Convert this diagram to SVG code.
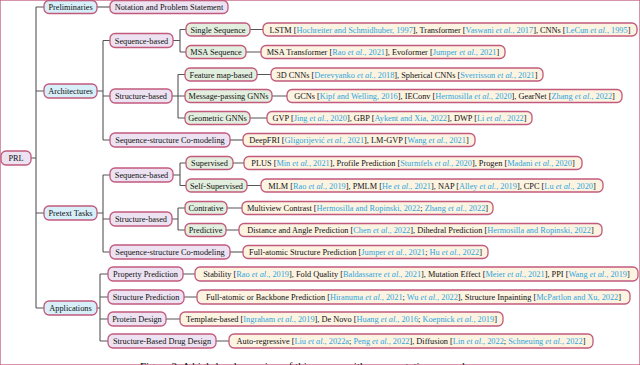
<svg xmlns="http://www.w3.org/2000/svg" width="640" height="365" viewBox="0 0 640 365">
<style>
text{font-family:"Liberation Serif","Times New Roman",serif;font-size:8.3px;fill:#111;}
.t{text-anchor:middle;}
rect{stroke:#c25a7c;stroke-width:1.3;}
.l1 rect{fill:#d6eff9;}
.l2 rect{fill:#ece2f1;}
.l3 rect{fill:#e2efdf;}
.l4 rect{fill:#fcf3e1;}
.c{fill:#2fa6dd;}
.i{font-style:italic;}
#connectors path{fill:none;stroke:#555;stroke-width:1.1;}
.cap{font-size:11px;}
</style>
<rect x="0" y="0" width="640" height="365" fill="#fff" stroke="none"/>
<g id="connectors">
<path d="M31,158 H36 M36,7 V308 M36,7 H44 M36,91 H44 M36,213 H44 M36,308 H44"/>
<path d="M97,7 H110"/>
<path d="M97,91 H103 M103,40.5 V140 M103,40.5 H110 M103,96 H110 M103,140 H110"/>
<path d="M173,40.5 H180 M180,29.5 V52 M180,29.5 H186 M180,52 H186"/>
<path d="M250,29.5 H263 M246,52 H261"/>
<path d="M172,96 H178 M178,74.5 V118 M178,74.5 H185 M178,96 H185 M178,118 H185"/>
<path d="M257,74.5 H271 M272,96 H287 M250,118 H267"/>
<path d="M230,140 H243"/>
<path d="M97,213 H103 M103,175 V252 M103,175 H110 M103,219 H110 M103,252 H110"/>
<path d="M173,175 H180 M180,163 V185.5 M180,163 H186 M180,185.5 H186"/>
<path d="M233,163 H244 M247,185.5 H261"/>
<path d="M172,219 H178 M178,208 V230 M178,208 H185 M178,230 H185"/>
<path d="M227,208 H242 M226,230 H239"/>
<path d="M230,252 H243"/>
<path d="M97,308 H100 M100,274 V341 M100,274 H108 M100,297 H108 M100,319 H108 M100,341 H108"/>
<path d="M183,274 H195 M184,297 H197 M166,319 H180 M216,341 H229"/>
</g>

<g id="prl" class="l2"><rect x="1" y="151" width="30" height="14" rx="5"/><text class="t" x="16" y="161">PRL</text></g>

<g id="preliminaries" class="l1"><rect x="44" y="0.5" width="53" height="13" rx="5"/><text class="t" x="70.5" y="10">Preliminaries</text></g>
<g id="architectures" class="l1"><rect x="44" y="84" width="53" height="14" rx="5"/><text class="t" x="70.5" y="94">Architectures</text></g>
<g id="pretext" class="l1"><rect x="44" y="206" width="53" height="14" rx="5"/><text class="t" x="70.5" y="216">Pretext Tasks</text></g>
<g id="applications" class="l1"><rect x="44" y="301" width="53" height="14" rx="5"/><text class="t" x="70.5" y="311">Applications</text></g>

<g id="notation" class="l2"><rect x="110" y="0.5" width="118" height="13" rx="5"/><text class="t" x="169" y="10">Notation and Problem Statement</text></g>
<g id="arch-seq" class="l2"><rect x="110" y="33.5" width="63" height="14" rx="5"/><text class="t" x="141.5" y="43.5">Sequence-based</text></g>
<g id="arch-struct" class="l2"><rect x="110" y="89" width="62" height="14" rx="5"/><text class="t" x="141" y="99">Structure-based</text></g>
<g id="arch-co" class="l2"><rect x="110" y="133" width="120" height="14" rx="5"/><text class="t" x="170" y="143">Sequence-structure Co-modeling</text></g>
<g id="pre-seq" class="l2"><rect x="110" y="168" width="63" height="14" rx="5"/><text class="t" x="141.5" y="178">Sequence-based</text></g>
<g id="pre-struct" class="l2"><rect x="110" y="212" width="62" height="14" rx="5"/><text class="t" x="141" y="222">Structure-based</text></g>
<g id="pre-co" class="l2"><rect x="110" y="245" width="120" height="14" rx="5"/><text class="t" x="170" y="255">Sequence-structure Co-modeling</text></g>
<g id="app-prop" class="l2"><rect x="108" y="267" width="75" height="14" rx="5"/><text class="t" x="145.5" y="277">Property Prediction</text></g>
<g id="app-struct" class="l2"><rect x="108" y="290" width="76" height="14" rx="5"/><text class="t" x="146" y="300">Structure Prediction</text></g>
<g id="app-design" class="l2"><rect x="108" y="312" width="58" height="14" rx="5"/><text class="t" x="137" y="322">Protein Design</text></g>
<g id="app-drug" class="l2"><rect x="108" y="334" width="108" height="14" rx="5"/><text class="t" x="162" y="344">Structure-Based Drug Design</text></g>

<g id="single" class="l3"><rect x="186" y="23" width="64" height="13" rx="5"/><text class="t" x="218" y="32.5">Single Sequence</text></g>
<g id="msa" class="l3"><rect x="186" y="45.5" width="60" height="13" rx="5"/><text class="t" x="216" y="55">MSA Sequence</text></g>
<g id="featmap" class="l3"><rect x="185" y="68" width="72" height="13" rx="5"/><text class="t" x="221" y="77.5">Feature map-based</text></g>
<g id="mpgnn" class="l3"><rect x="185" y="89.5" width="87" height="13" rx="5"/><text class="t" x="228.5" y="99">Message-passing GNNs</text></g>
<g id="geognn" class="l3"><rect x="185" y="111.5" width="65" height="13" rx="5"/><text class="t" x="217.5" y="121">Geometric GNNs</text></g>
<g id="supervised" class="l3"><rect x="186" y="156.5" width="47" height="13" rx="5"/><text class="t" x="209.5" y="166">Supervised</text></g>
<g id="selfsup" class="l3"><rect x="186" y="179" width="61" height="13" rx="5"/><text class="t" x="216.5" y="188.5">Self-Supervised</text></g>
<g id="contrative" class="l3"><rect x="185" y="201.5" width="42" height="13" rx="5"/><text class="t" x="206" y="211">Contrative</text></g>
<g id="predictive" class="l3"><rect x="185" y="223.5" width="41" height="13" rx="5"/><text class="t" x="205.5" y="233">Predictive</text></g>

<g id="c-lstm" class="l4"><rect x="263" y="23" width="374" height="13" rx="5"/><text class="t" x="450" y="32.5">LSTM [<tspan class="c">Hochreiter and Schmidhuber, 1997</tspan>], Transformer [<tspan class="c">Vaswani <tspan class="i">et al.</tspan>, 2017</tspan>], CNNs [<tspan class="c">LeCun <tspan class="i">et al.</tspan>, 1995</tspan>]</text></g>
<g id="c-msat" class="l4"><rect x="261" y="45.5" width="244" height="13" rx="5"/><text class="t" x="383" y="55">MSA Transformer [<tspan class="c">Rao <tspan class="i">et al.</tspan>, 2021</tspan>], Evoformer [<tspan class="c">Jumper <tspan class="i">et al.</tspan>, 2021</tspan>]</text></g>
<g id="c-3dcnn" class="l4"><rect x="271" y="68" width="272" height="13" rx="5"/><text class="t" x="407" y="77.5">3D CNNs [<tspan class="c">Derevyanko <tspan class="i">et al.</tspan>, 2018</tspan>], Spherical CNNs [<tspan class="c">Sverrisson <tspan class="i">et al.</tspan>, 2021</tspan>]</text></g>
<g id="c-gcn" class="l4"><rect x="287" y="89.5" width="335" height="13" rx="5"/><text class="t" x="454.5" y="99">GCNs [<tspan class="c">Kipf and Welling, 2016</tspan>], IEConv [<tspan class="c">Hermosilla <tspan class="i">et al.</tspan>, 2020</tspan>], GearNet [<tspan class="c">Zhang <tspan class="i">et al.</tspan>, 2022</tspan>]</text></g>
<g id="c-gvp" class="l4"><rect x="267" y="111.5" width="265" height="13" rx="5"/><text class="t" x="399.5" y="121">GVP [<tspan class="c">Jing <tspan class="i">et al.</tspan>, 2020</tspan>], GBP [<tspan class="c">Aykent and Xia, 2022</tspan>], DWP [<tspan class="c">Li <tspan class="i">et al.</tspan>, 2022</tspan>]</text></g>
<g id="c-deepfri" class="l4"><rect x="243" y="133.5" width="232" height="13" rx="5"/><text class="t" x="359" y="143">DeepFRI [<tspan class="c">Gligorijević <tspan class="i">et al.</tspan>, 2021</tspan>], LM-GVP [<tspan class="c">Wang <tspan class="i">et al.</tspan>, 2021</tspan>]</text></g>
<g id="c-plus" class="l4"><rect x="244" y="156.5" width="338" height="13" rx="5"/><text class="t" x="413" y="166">PLUS [<tspan class="c">Min <tspan class="i">et al.</tspan>, 2021</tspan>], Profile Prediction [<tspan class="c">Sturmfels <tspan class="i">et al.</tspan>, 2020</tspan>], Progen [<tspan class="c">Madani <tspan class="i">et al.</tspan>, 2020</tspan>]</text></g>
<g id="c-mlm" class="l4"><rect x="261" y="179" width="342" height="13" rx="5"/><text class="t" x="432" y="188.5">MLM [<tspan class="c">Rao <tspan class="i">et al.</tspan>, 2019</tspan>], PMLM [<tspan class="c">He <tspan class="i">et al.</tspan>, 2021</tspan>], NAP [<tspan class="c">Alley <tspan class="i">et al.</tspan>, 2019</tspan>], CPC [<tspan class="c">Lu <tspan class="i">et al.</tspan>, 2020</tspan>]</text></g>
<g id="c-multiview" class="l4"><rect x="242" y="201.5" width="251" height="13" rx="5"/><text class="t" x="367.5" y="211">Multiview Contrast [<tspan class="c">Hermosilla and Ropinski, 2022</tspan>; <tspan class="c">Zhang <tspan class="i">et al.</tspan>, 2022</tspan>]</text></g>
<g id="c-distance" class="l4"><rect x="239" y="223.5" width="363" height="13" rx="5"/><text class="t" x="420.5" y="233">Distance and Angle Prediction [<tspan class="c">Chen <tspan class="i">et al.</tspan>, 2022</tspan>], Dihedral Prediction [<tspan class="c">Hermosilla and Ropinski, 2022</tspan>]</text></g>
<g id="c-fullatomic" class="l4"><rect x="243" y="245.5" width="245" height="13" rx="5"/><text class="t" x="365.5" y="255">Full-atomic Structure Prediction [<tspan class="c">Jumper <tspan class="i">et al.</tspan>, 2021</tspan>; <tspan class="c">Hu <tspan class="i">et al.</tspan>, 2022</tspan>]</text></g>
<g id="c-stability" class="l4"><rect x="195" y="267" width="443" height="14" rx="5"/><text class="t" x="416.5" y="277">Stability [<tspan class="c">Rao <tspan class="i">et al.</tspan>, 2019</tspan>], Fold Quality [<tspan class="c">Baldassarre <tspan class="i">et al.</tspan>, 2021</tspan>], Mutation Effect [<tspan class="c">Meier <tspan class="i">et al.</tspan>, 2021</tspan>], PPI [<tspan class="c">Wang <tspan class="i">et al.</tspan>, 2019</tspan>]</text></g>
<g id="c-backbone" class="l4"><rect x="197" y="290" width="433" height="14" rx="5"/><text class="t" x="413.5" y="300">Full-atomic or Backbone Prediction [<tspan class="c">Hiranuma <tspan class="i">et al.</tspan>, 2021</tspan>; <tspan class="c">Wu <tspan class="i">et al.</tspan>, 2022</tspan>], Structure Inpainting [<tspan class="c">McPartlon and Xu, 2022</tspan>]</text></g>
<g id="c-template" class="l4"><rect x="180" y="312" width="323" height="14" rx="5"/><text class="t" x="341.5" y="322">Template-based [<tspan class="c">Ingraham <tspan class="i">et al.</tspan>, 2019</tspan>], De Novo [<tspan class="c">Huang <tspan class="i">et al.</tspan>, 2016</tspan>; <tspan class="c">Koepnick <tspan class="i">et al.</tspan>, 2019</tspan>]</text></g>
<g id="c-auto" class="l4"><rect x="229" y="334" width="364" height="14" rx="5"/><text class="t" x="411" y="344">Auto-regressive [<tspan class="c">Liu <tspan class="i">et al.</tspan>, 2022a</tspan>; <tspan class="c">Peng <tspan class="i">et al.</tspan>, 2022</tspan>], Diffusion [<tspan class="c">Lin <tspan class="i">et al.</tspan>, 2022</tspan>; <tspan class="c">Schneuing <tspan class="i">et al.</tspan>, 2022</tspan>]</text></g>

<text class="cap" x="140" y="370">Figure 2: A high-level overview of this survey with representative examples.</text>
</svg>
